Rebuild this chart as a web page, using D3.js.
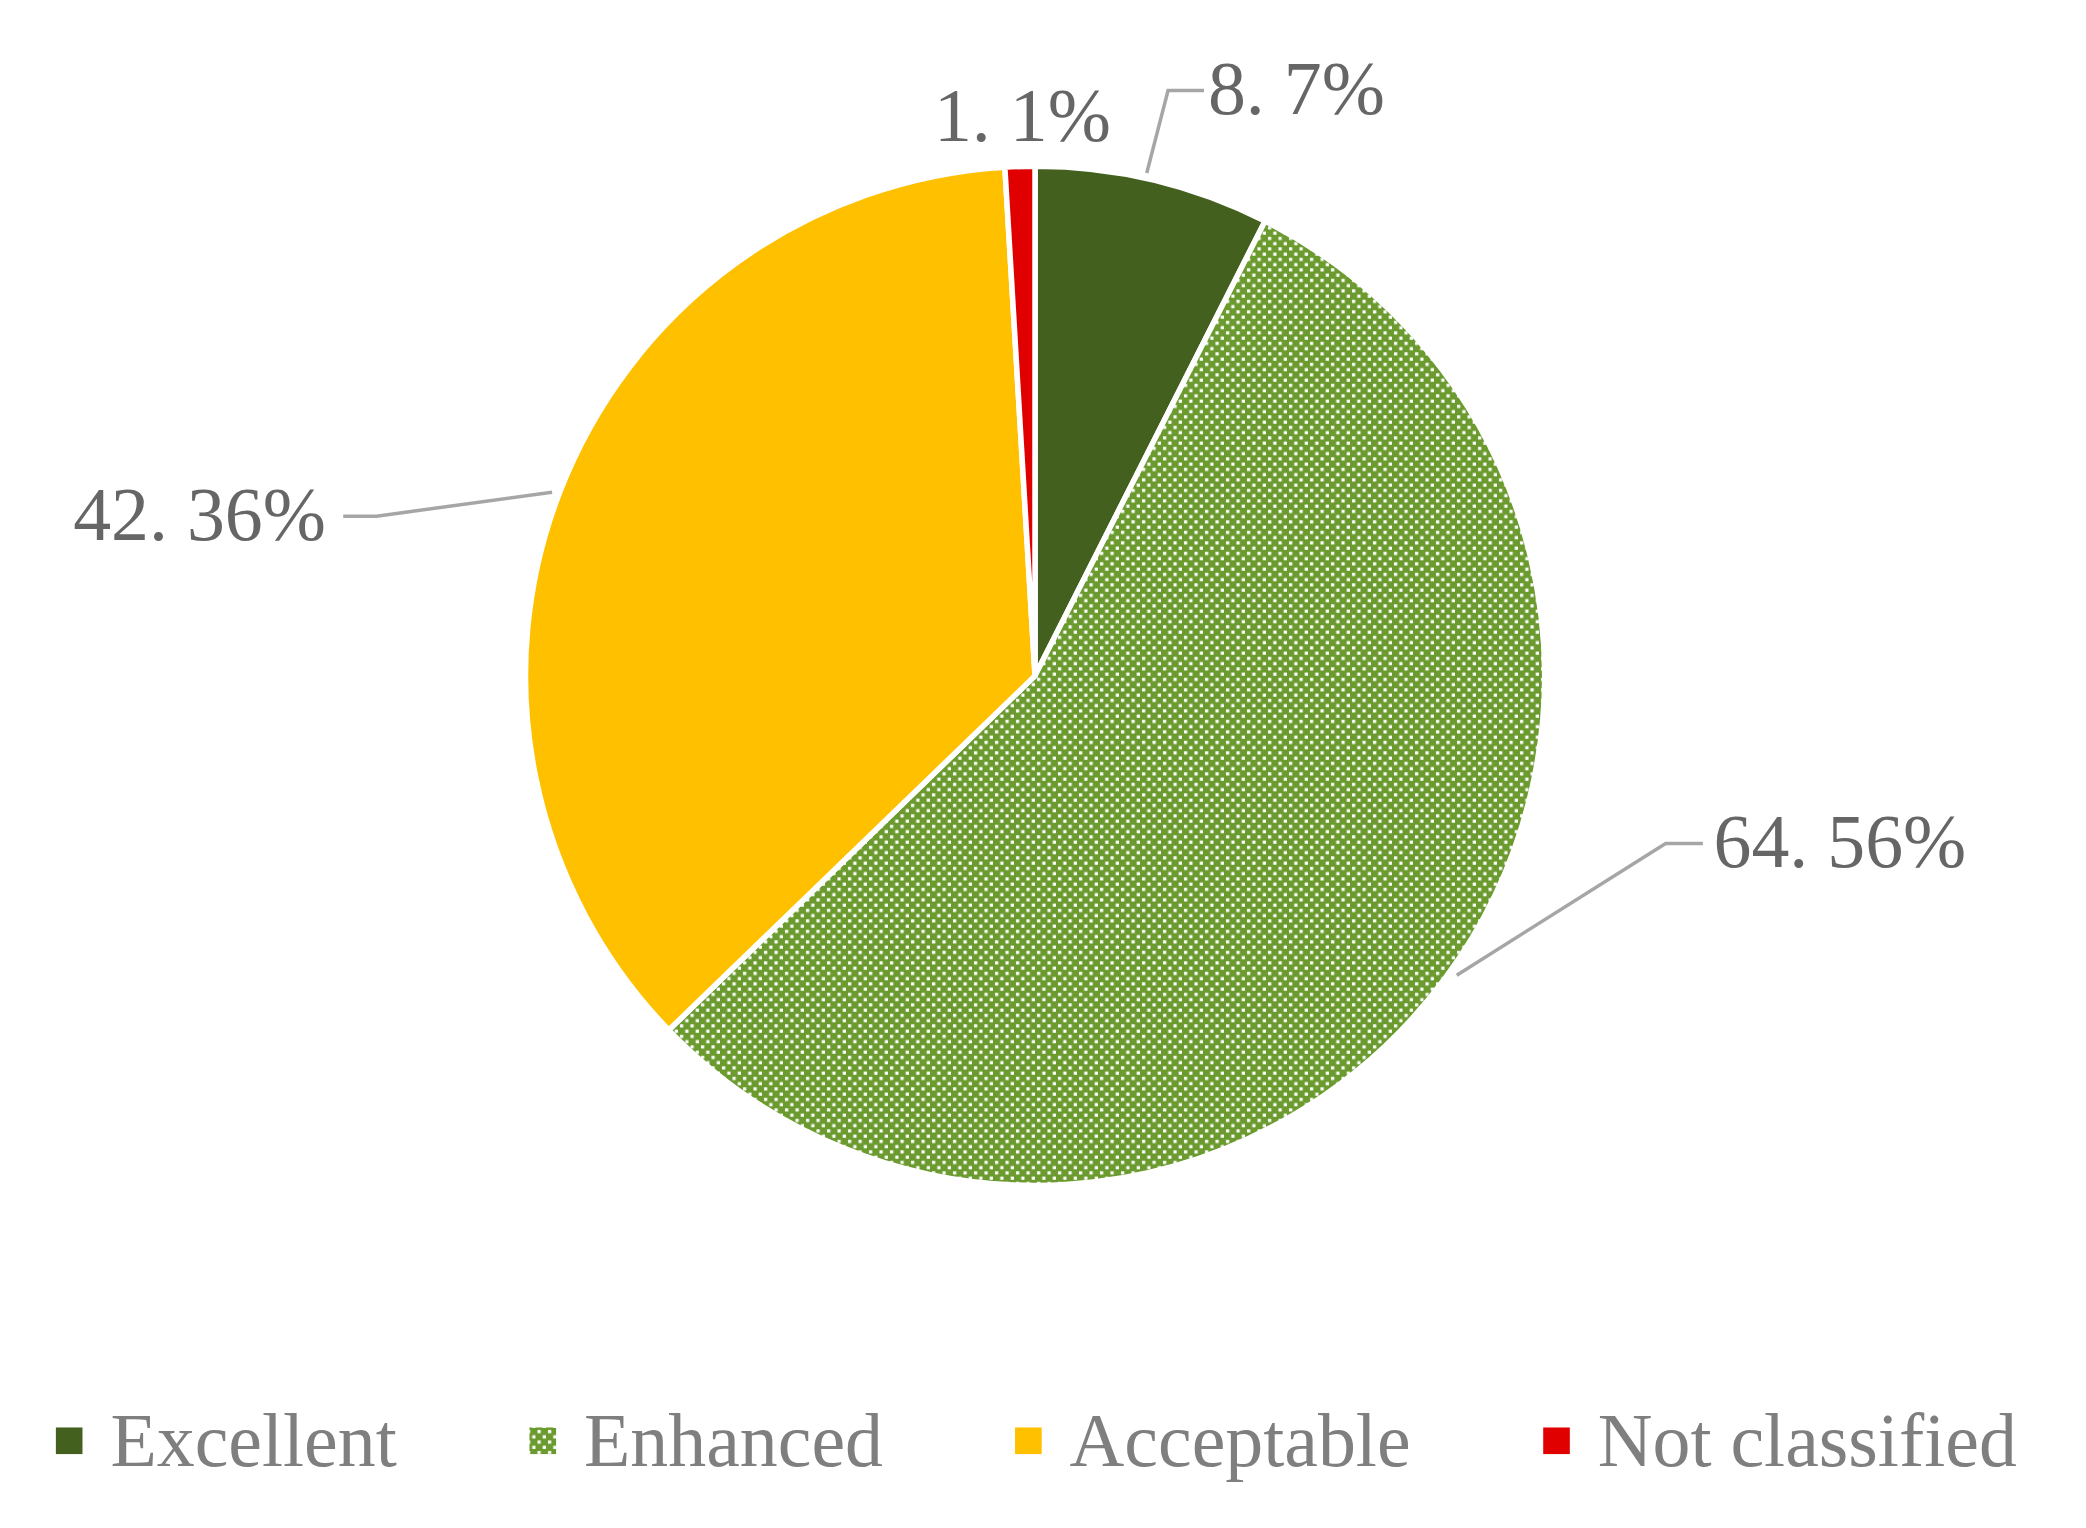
<!DOCTYPE html>
<html><head><meta charset="utf-8">
<script src="https://cdn.jsdelivr.net/npm/d3@7"></script>
<style>body{margin:0;background:#fff}</style></head>
<body><svg id="c" width="2086" height="1528"></svg>
<script>
const categories = ["Excellent","Enhanced","Acceptable","Not classified"];
const values = [8.7, 64.56, 42.36, 1.1];
const labels = ["8. 7%","64. 56%","42. 36%","1. 1%"];
const colors = ["#43601F","#6B9A2E","#FFC000","#E00000"];

const s = 2086/1568;
const svg = d3.select("#c");
const defs = svg.append("defs");
const pat = defs.append("pattern").attr("id","dots").attr("patternUnits","userSpaceOnUse")
  .attr("width",10.5).attr("height",10.5);
pat.append("rect").attr("width",10.5).attr("height",10.5).attr("fill",colors[1]);
pat.append("rect").attr("x",2).attr("y",2).attr("width",3.2).attr("height",3.2).attr("fill","#fff");
pat.append("rect").attr("x",7.25).attr("y",7.25).attr("width",3.2).attr("height",3.2).attr("fill","#fff");

const cx = 778*s, cy = 508*s, r = 383*s;
const pie = d3.pie().sort(null).value(d=>d);
const arc = d3.arc().innerRadius(0).outerRadius(r);
const g = svg.append("g").attr("transform",`translate(${cx},${cy})`);
g.selectAll("path").data(pie(values)).join("path")
  .attr("d",arc)
  .attr("fill",(d,i)=> i===1 ? "url(#dots)" : colors[i])
  .attr("stroke","#fff").attr("stroke-width",5.5).attr("stroke-linejoin","round");

// leader lines (display coords scaled)
const leaders = [
  [[862,130],[878,68],[905,68]],
  [[1095,733],[1252,634],[1280,634]],
  [[415,370],[283,388],[258,388]],
  null
];
const line = d3.line().x(p=>p[0]*s).y(p=>p[1]*s);
leaders.forEach(l=>{ if(l) svg.append("path").attr("d",line(l)).attr("fill","none")
  .attr("stroke","#A6A6A6").attr("stroke-width",3.5); });

const lpos = [[908,68,"start"],[1288,634,"start"],[245,388,"end"],[835,88,"end"]];
labels.forEach((t,i)=>{
  svg.append("text").attr("x",lpos[i][0]*s).attr("y",(lpos[i][1]+18)*s)
    .attr("text-anchor",lpos[i][2])
    .attr("font-family","'Liberation Serif','Times New Roman',serif")
    .attr("font-size",57*s).attr("fill","#666666").text(t);
});

// legend
const lx = [42,398,763,1160];
categories.forEach((c,i)=>{
  svg.append("rect").attr("x",lx[i]*s).attr("y",1073*s).attr("width",20*s).attr("height",20*s)
    .attr("fill", i===1 ? "url(#dots)" : colors[i]);
  svg.append("text").attr("x",(lx[i]+41)*s).attr("y",1102*s)
    .attr("font-family","'Liberation Serif','Times New Roman',serif")
    .attr("font-size",57*s).attr("fill","#7F7F7F").text(c);
});
</script></body></html>
